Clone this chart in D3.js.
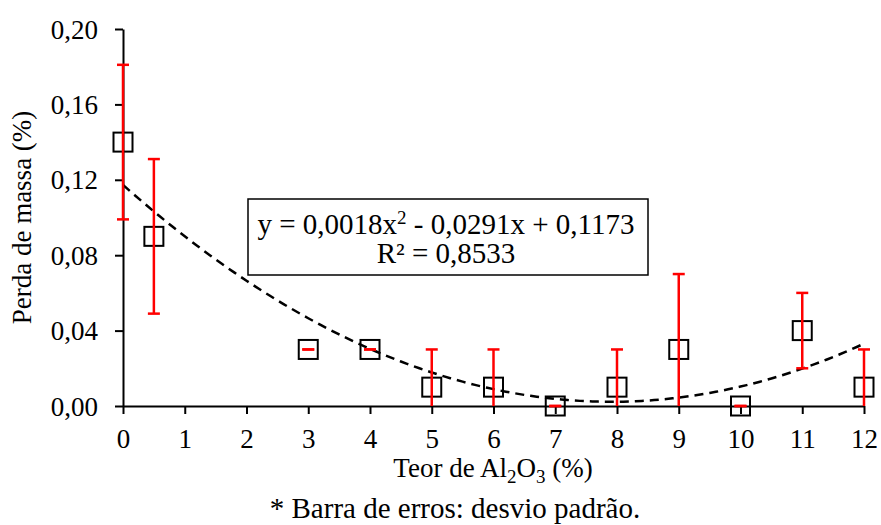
<!DOCTYPE html>
<html lang="pt">
<head>
<meta charset="UTF-8"/>
<title>Perda de massa x Teor de Al2O3</title>
<script src="https://d3js.org/d3.v7.min.js"></script>
<style>
    body { margin: 0; background: #fff; }
    svg { display: block; }
    svg text { font-family: "Liberation Serif", "Times New Roman", serif; fill: #000; }
</style>
</head>
<body>
<script>

    var w = 881;
    var h = 525;

    // data
    var teor   = [0, 0.5, 3, 4, 5, 6, 7, 8, 9, 10, 11, 12];
    var perda  = [0.14, 0.09, 0.03, 0.03, 0.01, 0.01, 0, 0.01, 0.03, 0, 0.04, 0.01];
    var desvio = [0.041, 0.041, 0, 0, 0.02, 0.02, 0, 0.02, 0.04, 0, 0.02, 0.02];
    var xTicks = [0, 1, 2, 3, 4, 5, 6, 7, 8, 9, 10, 11, 12];
    var yTicks = [0, 0.04, 0.08, 0.12, 0.16, 0.20];
    var coef   = [0.00184, -0.0291, 0.1173];   // polynomial trendline a, b, c (unrounded a)

    var dataset = teor.map(function(d, i) {
        return { x: d, y: perda[i], e: desvio[i] };
    });

    var xScale = d3.scaleLinear().domain([0, 12]).range([123, 864]);
    var yScale = d3.scaleLinear().domain([0, 0.2]).range([406, 29]);

    var fmt = function(d) { return d3.format(".2f")(d).replace(".", ","); };

    var svg = d3.select("body")
                .append("svg")
                .attr("width", w)
                .attr("height", h);

    // trendline
    var trend = d3.range(0, 12.01, 0.1).map(function(x) {
        return [x, coef[0] * x * x + coef[1] * x + coef[2]];
    });
    svg.append("path")
        .datum(trend)
        .attr("fill", "none")
        .attr("stroke", "#000")
        .attr("stroke-width", 2.5)
        .attr("stroke-dasharray", "9,6")
        .attr("d", d3.line()
            .x(function(d) { return xScale(d[0]); })
            .y(function(d) { return yScale(d[1]); }));

    // axes
    var xAxis = d3.axisBottom(xScale).tickValues(xTicks).tickSize(8).tickSizeOuter(0)
                  .tickFormat(d3.format("d"));
    var yAxis = d3.axisLeft(yScale).tickValues(yTicks).tickSize(8).tickSizeOuter(0)
                  .tickFormat(fmt);

    var gx = svg.append("g")
        .attr("transform", "translate(0," + yScale(0) + ")")
        .call(xAxis);
    var gy = svg.append("g")
        .attr("transform", "translate(" + xScale(0) + ",0)")
        .call(yAxis);

    [gx, gy].forEach(function(g) {
        g.attr("font-family", null).attr("font-size", null);
        g.select(".domain").attr("stroke", "#000").attr("stroke-width", 2);
        g.selectAll(".tick line").attr("stroke", "#000").attr("stroke-width", 2);
        g.selectAll(".tick text")
            .attr("fill", "#000")
            .style("font-size", "27px");
    });
    gx.selectAll(".tick text").attr("y", 23);
    gy.selectAll(".tick text").attr("x", -25).attr("dy", "0.34em");

    // markers
    svg.selectAll("rect.mk")
        .data(dataset)
        .enter()
        .append("rect")
        .attr("class", "mk")
        .attr("x", function(d) { return xScale(d.x) - 9.5; })
        .attr("y", function(d) { return yScale(d.y) - 9.5; })
        .attr("width", 19)
        .attr("height", 19)
        .attr("fill", "none")
        .attr("stroke", "#000")
        .attr("stroke-width", 2);

    // error bars (clipped at 0)
    var eb = svg.selectAll("g.eb")
        .data(dataset)
        .enter()
        .append("g")
        .attr("class", "eb")
        .attr("stroke", "#ff0000")
        .attr("stroke-width", 2.5);

    eb.append("line")
        .attr("x1", function(d) { return xScale(d.x); })
        .attr("x2", function(d) { return xScale(d.x); })
        .attr("y1", function(d) { return yScale(d.y + d.e); })
        .attr("y2", function(d) { return yScale(Math.max(0, d.y - d.e)); });

    eb.append("line")
        .attr("x1", function(d) { return xScale(d.x) - 6; })
        .attr("x2", function(d) { return xScale(d.x) + 6; })
        .attr("y1", function(d) { return yScale(d.y + d.e); })
        .attr("y2", function(d) { return yScale(d.y + d.e); });

    eb.filter(function(d) { return d.y - d.e >= 0; })
        .append("line")
        .attr("x1", function(d) { return xScale(d.x) - 6; })
        .attr("x2", function(d) { return xScale(d.x) + 6; })
        .attr("y1", function(d) { return yScale(d.y - d.e); })
        .attr("y2", function(d) { return yScale(d.y - d.e); });

    // equation box
    svg.append("rect")
        .attr("x", 248)
        .attr("y", 199)
        .attr("width", 400)
        .attr("height", 76)
        .attr("fill", "#fff")
        .attr("stroke", "#000")
        .attr("stroke-width", 1.5);

    var eq = svg.append("text")
        .attr("text-anchor", "middle")
        .attr("x", 446)
        .attr("y", 234)
        .style("font-size", "29px");
    eq.append("tspan").text("y = 0,0018x");
    eq.append("tspan").attr("dy", -10).style("font-size", "19px").text("2");
    eq.append("tspan").attr("dy", 10).text(" - 0,0291x + 0,1173");

    svg.append("text")
        .attr("text-anchor", "middle")
        .attr("x", 446)
        .attr("y", 263)
        .style("font-size", "29px")
        .text("R² = 0,8533");

    // axis titles
    var xt = svg.append("text")
        .attr("text-anchor", "middle")
        .attr("x", 493)
        .attr("y", 477)
        .style("font-size", "27px");
    xt.append("tspan").text("Teor de Al");
    xt.append("tspan").attr("dy", 6).style("font-size", "19px").text("2");
    xt.append("tspan").attr("dy", -6).text("O");
    xt.append("tspan").attr("dy", 6).style("font-size", "19px").text("3");
    xt.append("tspan").attr("dy", -6).text(" (%)");

    svg.append("text")
        .attr("text-anchor", "middle")
        .attr("transform", "translate(31," + yScale(0.1) + ") rotate(-90)")
        .style("font-size", "27px")
        .text("Perda de massa (%)");

    svg.append("text")
        .attr("text-anchor", "middle")
        .attr("x", 455)
        .attr("y", 518)
        .style("font-size", "29px")
        .text("* Barra de erros: desvio padrão.");

</script>
</body>
</html>
